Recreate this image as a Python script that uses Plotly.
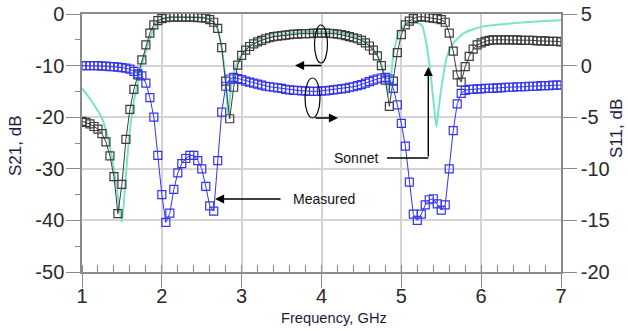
import plotly.graph_objects as go

# ---------------- data ----------------
freq_ghz = [round(1 + 0.05 * i, 2) for i in range(121)]

s21_measured = [
    -20.8, -21.0, -21.3, -21.8, -22.3, -23.2, -24.8, -27.5, -31.5, -38.7,
    -33.0, -24.3, -18.5, -14.6, -11.8, -8.9, -6.0, -3.7, -2.1, -1.3,
    -0.9, -0.7, -0.6, -0.6, -0.6, -0.6, -0.6, -0.6, -0.6, -0.7,
    -0.7, -0.8, -1.1, -1.6, -2.8, -6.5, -13.0, -20.3, -14.2, -9.9,
    -8.0, -7.0, -6.3, -5.8, -5.4, -5.1, -4.8, -4.6, -4.4, -4.3,
    -4.2, -4.1, -4.0, -3.9, -3.9, -3.8, -3.8, -3.8, -3.7, -3.7,
    -3.7, -3.7, -3.75, -3.8, -3.9, -4.0, -4.2, -4.4, -4.6, -4.8,
    -5.1, -5.6, -6.2, -7.0, -8.1, -10.0, -12.8, -17.9, -13.0, -7.5,
    -4.0, -2.1, -1.4, -0.9, -0.6, -0.5, -0.6, -0.7, -0.8, -0.9,
    -1.1, -1.6, -3.7, -7.2, -11.8, -13.2, -10.2, -8.2, -6.8, -6.0,
    -5.6, -5.3, -5.1, -5.0, -5.0, -5.0, -5.0, -5.0, -5.0, -5.0,
    -5.1, -5.1, -5.1, -5.1, -5.2, -5.2, -5.2, -5.3, -5.3, -5.3,
    -5.4,
]

s11_measured = [
    0.0, 0.0, 0.0, 0.0, 0.0, -0.05, -0.05, -0.1, -0.1, -0.15,
    -0.2, -0.25, -0.35, -0.55, -0.8, -1.0, -1.7, -3.1, -5.0, -8.7,
    -12.5, -15.2, -14.3, -12.0, -10.4, -9.5, -9.0, -8.7, -8.7, -9.2,
    -10.0, -11.7, -13.6, -14.1, -9.2, -4.5, -2.0, -1.3, -1.15, -1.25,
    -1.35, -1.5, -1.6, -1.7, -1.8, -1.9, -2.0, -2.05, -2.1, -2.15,
    -2.2, -2.3, -2.35, -2.4, -2.4, -2.45, -2.45, -2.5, -2.5, -2.5,
    -2.45, -2.45, -2.4, -2.35, -2.3, -2.25, -2.2, -2.1, -2.05, -1.95,
    -1.85, -1.7, -1.55, -1.4, -1.3, -1.2, -1.15, -1.3, -2.2, -3.8,
    -5.6, -7.8, -11.3, -14.4, -15.0, -14.4, -13.5, -13.0, -12.9, -13.4,
    -14.0, -13.5, -10.0, -6.3, -3.7, -2.7, -2.4, -2.3, -2.3, -2.25,
    -2.25, -2.2, -2.2, -2.2, -2.15, -2.15, -2.1, -2.1, -2.1, -2.05,
    -2.05, -2.05, -2.0, -2.0, -2.0, -1.95, -1.95, -1.95, -1.9, -1.9,
    -1.9,
]

sonnet_freq = [
    1.00, 1.05, 1.10, 1.15, 1.20, 1.25, 1.30, 1.35, 1.40, 1.45, 1.50, 1.55,
    1.60, 1.65, 1.70, 1.75, 1.80, 1.85, 1.90, 1.95, 2.00, 2.10, 2.20, 2.30,
    2.40, 2.50, 2.60, 2.65, 2.70, 2.75, 2.80, 2.83, 2.87, 2.90, 2.95, 3.00,
    3.10, 3.20, 3.30, 3.40, 3.50, 3.60, 3.70, 3.80, 3.90, 4.00, 4.10, 4.20,
    4.30, 4.40, 4.50, 4.60, 4.65, 4.70, 4.75, 4.80, 4.84, 4.87, 4.90, 4.95,
    5.00, 5.05, 5.10, 5.15, 5.20, 5.26, 5.32, 5.38, 5.41, 5.44, 5.47, 5.51,
    5.57, 5.65, 5.78, 6.00, 6.20, 6.40, 6.60, 6.80, 7.00,
]
sonnet_s21 = [
    -14.4, -15.4, -16.4, -17.6, -18.8, -20.2, -22.5, -25.8, -30.0, -35.5, -40.3, -31.0,
    -22.5, -17.0, -13.2, -10.0, -7.2, -4.8, -3.0, -1.8, -1.1, -0.7, -0.6, -0.6,
    -0.6, -0.7, -1.0, -1.5, -3.0, -6.5, -13.0, -19.5, -14.0, -11.5, -9.3, -7.8,
    -6.2, -5.3, -4.7, -4.3, -4.0, -3.8, -3.6, -3.5, -3.5, -3.5, -3.5, -3.6,
    -3.9, -4.3, -5.0, -6.0, -6.8, -8.0, -9.8, -12.5, -15.5, -12.0, -8.0, -4.5,
    -2.8, -2.0, -1.7, -1.6, -1.7, -2.3, -6.3, -13.5, -18.0, -21.9, -18.0, -13.5,
    -8.3, -5.7, -3.75, -2.5, -2.1, -1.8, -1.55, -1.35, -1.2,
]

x_ticks = [1, 2, 3, 4, 5, 6, 7]
s21_ticks = [0, -10, -20, -30, -40, -50]
s11_ticks = [5, 0, -5, -10, -15, -20]

# ---------------- figure ----------------
BLACK = "#3c3c3c"
BLUE = "#3434f0"
CYAN = "#78e4c8"
AXIS = "#8a8a8a"
GRID = "#d4d4d4"
FONT = "Liberation Sans, Arial, sans-serif"

fig = go.Figure()

fig.add_trace(go.Scatter(
    x=sonnet_freq, y=sonnet_s21, mode="lines", name="Sonnet",
    line=dict(color=CYAN, width=2, shape="spline", smoothing=0.6),
    yaxis="y",
))
fig.add_trace(go.Scatter(
    x=freq_ghz, y=s11_measured, mode="lines+markers", name="S11 measured",
    line=dict(color=BLUE, width=1),
    marker=dict(symbol="square-open", size=8, color=BLUE, line=dict(width=1.2, color=BLUE)),
    yaxis="y2",
))
fig.add_trace(go.Scatter(
    x=freq_ghz, y=s21_measured, mode="lines+markers", name="S21 measured",
    line=dict(color=BLACK, width=1),
    marker=dict(symbol="square-open", size=8, color=BLACK, line=dict(width=1.2, color=BLACK)),
    yaxis="y",
))

L, R, T, B = 82, 67, 14, 59
W, H = 628, 331
pw, ph = W - L - R, H - T - B


def px_to_data(px, py):
    f = 1 + (px - L) / pw * 6
    s = -(py - T) / ph * 50
    return f, s


shapes = []
# ellipses
for (x0p, y0p, x1p, y1p) in [(314.5, 25, 327.5, 63), (305, 78, 320, 118)]:
    fx0, sy0 = px_to_data(x0p, y0p)
    fx1, sy1 = px_to_data(x1p, y1p)
    shapes.append(dict(type="circle", xref="x", yref="y", x0=fx0, x1=fx1, y0=sy1, y1=sy0,
                       line=dict(color="black", width=1.2)))
# Sonnet leader horizontal segment
fa, sa = px_to_data(387, 158)
fb, sb = px_to_data(428.3, 158)
shapes.append(dict(type="line", xref="x", yref="y", x0=fa, x1=fb, y0=sa, y1=sb,
                   line=dict(color="black", width=1.4)))

annotations = []


def arrow(px_head, py_head, px_tail, py_tail):
    fh, sh = px_to_data(px_head, py_head)
    annotations.append(dict(
        x=fh, y=sh, xref="x", yref="y", text="", showarrow=True,
        ax=px_tail - px_head, ay=py_tail - py_head,
        arrowhead=2, arrowsize=1.3, arrowwidth=1.4, arrowcolor="black",
    ))


arrow(295, 65.5, 323, 65.5)       # S21 ellipse -> left axis
arrow(338, 118, 314, 118)         # S11 ellipse -> right axis
arrow(428.3, 67, 428.3, 158)      # Sonnet
arrow(215, 199, 282, 199)         # Measured

fs, ss = px_to_data(355.5, 158)
annotations.append(dict(x=fs, y=ss, xref="x", yref="y", text="Sonnet", showarrow=False,
                        xanchor="center", yanchor="middle",
                        font=dict(family=FONT, size=14, color="#111")))
fm, sm = px_to_data(323.5, 199)
annotations.append(dict(x=fm, y=sm, xref="x", yref="y", text="Measured", showarrow=False,
                        xanchor="center", yanchor="middle",
                        font=dict(family=FONT, size=14, color="#111")))

# axis titles
annotations.append(dict(x=(333.5 - L) / pw, y=(T + ph - 318) / ph, xref="paper", yref="paper",
                        text="Frequency, GHz", showarrow=False,
                        xanchor="center", yanchor="middle",
                        font=dict(family=FONT, size=14.7, color="#1c1c40")))
annotations.append(dict(x=(15 - L) / pw, y=(T + ph - 146) / ph, xref="paper", yref="paper",
                        text="S21, dB", showarrow=False, textangle=-90,
                        xanchor="center", yanchor="middle",
                        font=dict(family=FONT, size=17, color="#1c1c40")))
annotations.append(dict(x=(616 - L) / pw, y=(T + ph - 129) / ph, xref="paper", yref="paper",
                        text="S11, dB", showarrow=False, textangle=-90,
                        xanchor="center", yanchor="middle",
                        font=dict(family=FONT, size=17, color="#1c1c40")))

tickfont = dict(family=FONT, size=20, color="#2a2a2a")

fig.update_layout(
    width=W, height=H,
    margin=dict(l=L, r=R, t=T, b=B, autoexpand=False),
    paper_bgcolor="white", plot_bgcolor="white",
    showlegend=False,
    shapes=shapes,
    annotations=annotations,
    xaxis=dict(
        range=[1, 7], tickvals=x_ticks, ticktext=[str(v) for v in x_ticks],
        showgrid=True, gridcolor=GRID, gridwidth=1.5,
        showline=True, linecolor=AXIS, linewidth=1.5, mirror=True,
        ticks="outside", ticklen=14, tickcolor=AXIS, tickwidth=1.3,
        minor=dict(dtick=0.2, tick0=1, ticks="inside", ticklen=7, tickcolor=AXIS, showgrid=False),
        tickfont=tickfont, zeroline=False, automargin=False,
        ticklabelstandoff=-9,
    ),
    yaxis=dict(
        range=[-50, 0], tickvals=s21_ticks, ticktext=[str(v) for v in s21_ticks],
        showgrid=True, gridcolor=GRID, gridwidth=1.5,
        showline=True, linecolor=AXIS, linewidth=1.5,
        ticks="outside", ticklen=14, tickcolor=AXIS, tickwidth=1.3,
        minor=dict(dtick=5, tick0=0, ticks="outside", ticklen=5, tickcolor=AXIS, showgrid=False),
        tickfont=tickfont, zeroline=False, automargin=False,
        ticklabelstandoff=-2,
    ),
    yaxis2=dict(
        range=[-20, 5], tickvals=s11_ticks, ticktext=[str(v) for v in s11_ticks],
        overlaying="y", side="right", showgrid=False,
        showline=True, linecolor=AXIS, linewidth=1.5,
        ticks="outside", ticklen=14, tickcolor=AXIS, tickwidth=1.3,
        tickfont=tickfont, zeroline=False, automargin=False,
    ),
)

fig.write_html("out.html", config={"displayModeBar": False},
               post_script="document.body.style.margin='0px';")
